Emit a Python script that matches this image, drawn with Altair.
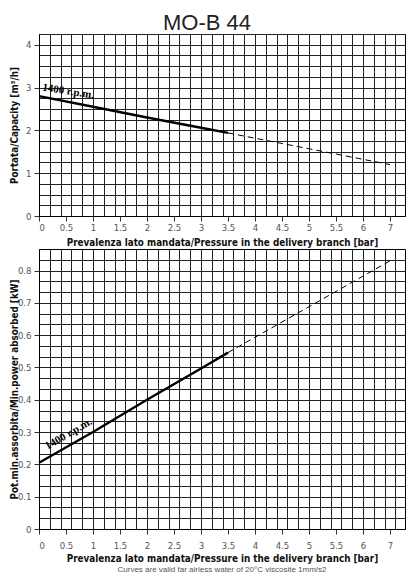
import altair as alt
import pandas as pd

# MO-B 44 pump, curves at 1400 r.p.m.
pressure_solid = [0, 1, 2, 3, 3.5]
capacity_solid = [2.8, 2.55, 2.3, 2.06, 1.94]
power_solid = [0.205, 0.30, 0.40, 0.497, 0.546]

pressure_dashed = [3.5, 7]
capacity_dashed = [1.94, 1.2]
power_dashed = [0.546, 0.83]

speed_label = "1400 r.p.m."

x_labels = [0, 0.5, 1, 1.5, 2, 2.5, 3, 3.5, 4, 4.5, 5, 5.5, 6, 7]
capacity_labels = [0, 1, 2, 3, 4]
power_labels = [0, 0.1, 0.2, 0.3, 0.4, 0.5, 0.6, 0.7, 0.8]

x_title = "Prevalenza lato mandata/Pressure in the delivery branch [bar]"
capacity_title = "Portata/Capacity [m³/h]"
power_title = "Pot.min.assorbita/Min.power absorbed [kW]"
note = "Curves are valid far airless water of 20°C viscosite 1mm/s2"

## the sheet squeezes 6..7 bar into half a division, so x is piecewise
W = 366
PX = 54  # px per bar up to 6
x_end = 6 + 2 * (W / PX - 6)


def sheet_to_bar(v):
    return v if v <= 6 else 6 + 2 * (v - 6)


x_grid = [round(sheet_to_bar(k * 0.2), 4) for k in range(34)]
capacity_grid = [k * 0.25 for k in range(18)]
power_grid = [round(k / 30, 5) for k in range(27)]

LABEL_FONT = "DejaVu Sans Condensed, sans-serif"
TITLE_FONT = "DejaVu Sans Condensed, sans-serif"


def panel(ycol, y_top, y_grid, y_labels, y_title, height, angle, dx, dy,
          lab_pad, title_pad):
    solid = pd.DataFrame({"p": pressure_solid,
                          "capacity": capacity_solid, "power": power_solid})
    dashed = pd.DataFrame({"p": pressure_dashed,
                           "capacity": capacity_dashed, "power": power_dashed})

    xs = alt.Scale(domain=[0, 6, x_end], range=[0, 6 * PX, W], nice=False)
    ys = alt.Scale(domain=[0, y_top], nice=False)

    grid_x = alt.Axis(values=x_grid, grid=True, labels=False, ticks=False,
                      domain=False, title=None, orient="bottom")
    grid_y = alt.Axis(values=y_grid, grid=True, labels=False, ticks=False,
                      domain=False, title=None, orient="left")
    lab_x = alt.Axis(values=x_labels, grid=False, format="~g", title=x_title,
                     orient="bottom", tickSize=5, labelPadding=lab_pad,
                     titlePadding=title_pad)
    lab_y = alt.Axis(values=y_labels, grid=False, format="~g", title=y_title,
                     orient="left", tickSize=5, labelPadding=3, titleX=-20)

    line_solid = alt.Chart(solid).mark_line(color="black", strokeWidth=2.4).encode(
        x=alt.X("p:Q", scale=xs, axis=grid_x),
        y=alt.Y(f"{ycol}:Q", scale=ys, axis=grid_y),
    )
    line_dashed = alt.Chart(dashed).mark_line(
        color="black", strokeWidth=1, strokeDash=[6, 4]
    ).encode(
        x=alt.X("p:Q", scale=xs, axis=lab_x),
        y=alt.Y(f"{ycol}:Q", scale=ys, axis=lab_y),
    )
    label = alt.Chart(solid.head(1)).mark_text(
        font="Liberation Serif", fontWeight="bold", fontSize=11, align="left",
        baseline="bottom", angle=angle, dx=dx, dy=dy, color="black"
    ).encode(
        x=alt.X("p:Q", axis=None),
        y=alt.Y(f"{ycol}:Q", axis=None),
        text=alt.value(speed_label),
    )
    return alt.layer(line_solid, line_dashed, label).resolve_axis(
        x="independent", y="independent"
    ).properties(width=W, height=height)


top = panel("capacity", 4.25, capacity_grid, capacity_labels,
            capacity_title, 182, 9, 2, -4, 1, 6)
bottom = panel("power", 26 / 30, power_grid, power_labels,
               power_title, 280, 330, 14, -5, 6, 4).properties(
    title=alt.TitleParams(note, orient="bottom", fontSize=8, color="#555",
                          font="Liberation Sans", fontWeight="normal",
                          offset=3)
)

chart = alt.vconcat(top, bottom, spacing=0).properties(
    title=alt.TitleParams("MO-B 44", fontSize=22, font="Liberation Sans",
                          fontWeight="normal", color="#222", anchor="middle",
                          offset=-1),
    padding={"top": 3, "left": 0, "right": 0, "bottom": 0},
).configure_view(
    stroke="black", strokeWidth=1
).configure_axis(
    gridColor="#222", gridWidth=1, gridOpacity=1,
    domainColor="black", tickColor="#333",
    labelFont=LABEL_FONT, labelFontSize=9.5, labelColor="#555",
    titleFont=TITLE_FONT, titleFontSize=9.8, titleFontWeight="bold",
    titleColor="#111",
)

chart.save("out.html", embed_options={"renderer": "svg", "actions": False})
